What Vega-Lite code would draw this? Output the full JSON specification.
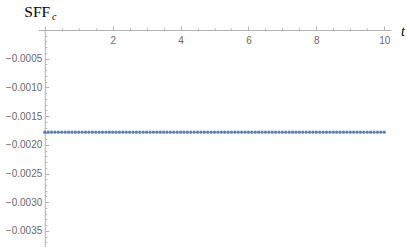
{
  "$schema": "https://vega.github.io/schema/vega-lite/v6.json",
  "autosize": "none",
  "width": 353,
  "height": 221,
  "padding": {"left": 38, "top": 26, "right": 16, "bottom": 0},
  "background": "white",
  "config": {"view": {"stroke": null}, "axis": {"grid": false}},
  "data": {"values": [
    {"t": 0.0, "v": -0.00178}, {"t": 0.1, "v": -0.00178}, {"t": 0.2, "v": -0.00178}, {"t": 0.3, "v": -0.00178}, {"t": 0.4, "v": -0.00178},
    {"t": 0.5, "v": -0.00178}, {"t": 0.6, "v": -0.00178}, {"t": 0.7, "v": -0.00178}, {"t": 0.8, "v": -0.00178}, {"t": 0.9, "v": -0.00178},
    {"t": 1.0, "v": -0.00178}, {"t": 1.1, "v": -0.00178}, {"t": 1.2, "v": -0.00178}, {"t": 1.3, "v": -0.00178}, {"t": 1.4, "v": -0.00178},
    {"t": 1.5, "v": -0.00178}, {"t": 1.6, "v": -0.00178}, {"t": 1.7, "v": -0.00178}, {"t": 1.8, "v": -0.00178}, {"t": 1.9, "v": -0.00178},
    {"t": 2.0, "v": -0.00178}, {"t": 2.1, "v": -0.00178}, {"t": 2.2, "v": -0.00178}, {"t": 2.3, "v": -0.00178}, {"t": 2.4, "v": -0.00178},
    {"t": 2.5, "v": -0.00178}, {"t": 2.6, "v": -0.00178}, {"t": 2.7, "v": -0.00178}, {"t": 2.8, "v": -0.00178}, {"t": 2.9, "v": -0.00178},
    {"t": 3.0, "v": -0.00178}, {"t": 3.1, "v": -0.00178}, {"t": 3.2, "v": -0.00178}, {"t": 3.3, "v": -0.00178}, {"t": 3.4, "v": -0.00178},
    {"t": 3.5, "v": -0.00178}, {"t": 3.6, "v": -0.00178}, {"t": 3.7, "v": -0.00178}, {"t": 3.8, "v": -0.00178}, {"t": 3.9, "v": -0.00178},
    {"t": 4.0, "v": -0.00178}, {"t": 4.1, "v": -0.00178}, {"t": 4.2, "v": -0.00178}, {"t": 4.3, "v": -0.00178}, {"t": 4.4, "v": -0.00178},
    {"t": 4.5, "v": -0.00178}, {"t": 4.6, "v": -0.00178}, {"t": 4.7, "v": -0.00178}, {"t": 4.8, "v": -0.00178}, {"t": 4.9, "v": -0.00178},
    {"t": 5.0, "v": -0.00178}, {"t": 5.1, "v": -0.00178}, {"t": 5.2, "v": -0.00178}, {"t": 5.3, "v": -0.00178}, {"t": 5.4, "v": -0.00178},
    {"t": 5.5, "v": -0.00178}, {"t": 5.6, "v": -0.00178}, {"t": 5.7, "v": -0.00178}, {"t": 5.8, "v": -0.00178}, {"t": 5.9, "v": -0.00178},
    {"t": 6.0, "v": -0.00178}, {"t": 6.1, "v": -0.00178}, {"t": 6.2, "v": -0.00178}, {"t": 6.3, "v": -0.00178}, {"t": 6.4, "v": -0.00178},
    {"t": 6.5, "v": -0.00178}, {"t": 6.6, "v": -0.00178}, {"t": 6.7, "v": -0.00178}, {"t": 6.8, "v": -0.00178}, {"t": 6.9, "v": -0.00178},
    {"t": 7.0, "v": -0.00178}, {"t": 7.1, "v": -0.00178}, {"t": 7.2, "v": -0.00178}, {"t": 7.3, "v": -0.00178}, {"t": 7.4, "v": -0.00178},
    {"t": 7.5, "v": -0.00178}, {"t": 7.6, "v": -0.00178}, {"t": 7.7, "v": -0.00178}, {"t": 7.8, "v": -0.00178}, {"t": 7.9, "v": -0.00178},
    {"t": 8.0, "v": -0.00178}, {"t": 8.1, "v": -0.00178}, {"t": 8.2, "v": -0.00178}, {"t": 8.3, "v": -0.00178}, {"t": 8.4, "v": -0.00178},
    {"t": 8.5, "v": -0.00178}, {"t": 8.6, "v": -0.00178}, {"t": 8.7, "v": -0.00178}, {"t": 8.8, "v": -0.00178}, {"t": 8.9, "v": -0.00178},
    {"t": 9.0, "v": -0.00178}, {"t": 9.1, "v": -0.00178}, {"t": 9.2, "v": -0.00178}, {"t": 9.3, "v": -0.00178}, {"t": 9.4, "v": -0.00178},
    {"t": 9.5, "v": -0.00178}, {"t": 9.6, "v": -0.00178}, {"t": 9.7, "v": -0.00178}, {"t": 9.8, "v": -0.00178}, {"t": 9.9, "v": -0.00178},
    {"t": 10.0, "v": -0.00178}
  ]},
  "resolve": {"axis": {"x": "independent", "y": "independent"}},
  "layer": [
    {
      "mark": {"type": "point", "filled": true, "size": 11, "color": "#5e81b5", "opacity": 1, "strokeWidth": 0},
      "encoding": {
        "x": {"field": "t", "type": "quantitative",
          "scale": {"domain": [-0.2, 10.2], "nice": false, "zero": false},
          "axis": {"orient": "top", "offset": -4, "labels": false, "title": "t",
            "titleFont": "Liberation Serif", "titleFontStyle": "italic", "titleFontWeight": "normal", "titleFontSize": 14, "titleColor": "black",
            "titleX": 362.5, "titleY": 5, "titleAlign": "left", "titleBaseline": "alphabetic", "titleAngle": 0,
            "domainColor": "#b3b3b3", "domainWidth": 1, "tickColor": "#b3b3b3", "tickWidth": 1,
            "values": [0.5, 1, 1.5, 2, 2.5, 3, 3.5, 4, 4.5, 5, 5.5, 6, 6.5, 7, 7.5, 8, 8.5, 9, 9.5, 10],
            "tickSize": {"condition": {"test": "abs(round(datum.value * 10)) % 20 == 0", "value": 4}, "value": 2}}},
        "y": {"field": "v", "type": "quantitative",
          "scale": {"domain": [-0.00378, 0.00007], "nice": false, "zero": false},
          "axis": {"orient": "left", "offset": -6.8, "ticks": false, "tickSize": 0, "labelPadding": 3,
            "values": [-0.0005, -0.001, -0.0015, -0.002, -0.0025, -0.003, -0.0035], "format": ".4f",
            "labelFont": "Liberation Sans", "labelFontSize": 10, "labelColor": "#6a6a6a",
            "domainColor": "#b3b3b3", "domainWidth": 1,
            "title": "SFF", "titleFont": "Liberation Serif", "titleFontWeight": "normal", "titleFontSize": 15.5, "titleColor": "black",
            "titleX": -21, "titleY": -9.3, "titleAngle": 0, "titleAlign": "left", "titleBaseline": "alphabetic"}}
      }
    },
    {
      "mark": {"type": "point", "opacity": 0},
      "encoding": {
        "x": {"field": "t", "type": "quantitative",
          "axis": {"orient": "bottom", "offset": -217, "ticks": false, "tickSize": 0, "domain": false, "labelPadding": 5,
            "values": [2, 4, 6, 8, 10], "format": "d",
            "labelFont": "Liberation Sans", "labelFontSize": 10, "labelColor": "#6a6a6a", "title": null}},
        "y": {"field": "v", "type": "quantitative",
          "axis": {"orient": "right", "offset": -346.2, "labels": false, "domain": false,
            "tickColor": "#b3b3b3", "tickWidth": 1,
            "values": [-0.0001, -0.0002, -0.0003, -0.0004, -0.0005, -0.0006, -0.0007, -0.0008, -0.0009, -0.001, -0.0011, -0.0012, -0.0013, -0.0014, -0.0015, -0.0016, -0.0017, -0.0018, -0.0019, -0.002, -0.0021, -0.0022, -0.0023, -0.0024, -0.0025, -0.0026, -0.0027, -0.0028, -0.0029, -0.003, -0.0031, -0.0032, -0.0033, -0.0034, -0.0035, -0.0036, -0.0037],
            "tickSize": {"condition": {"test": "abs(round(datum.value * 10000)) % 5 == 0", "value": 4}, "value": 2},
            "title": "c", "titleFont": "Liberation Serif", "titleFontStyle": "italic", "titleFontWeight": "normal", "titleFontSize": 10, "titleColor": "black",
            "titleX": 6.7, "titleY": -6.5, "titleAngle": 0, "titleAlign": "left", "titleBaseline": "alphabetic"}}
      }
    }
  ]
}
